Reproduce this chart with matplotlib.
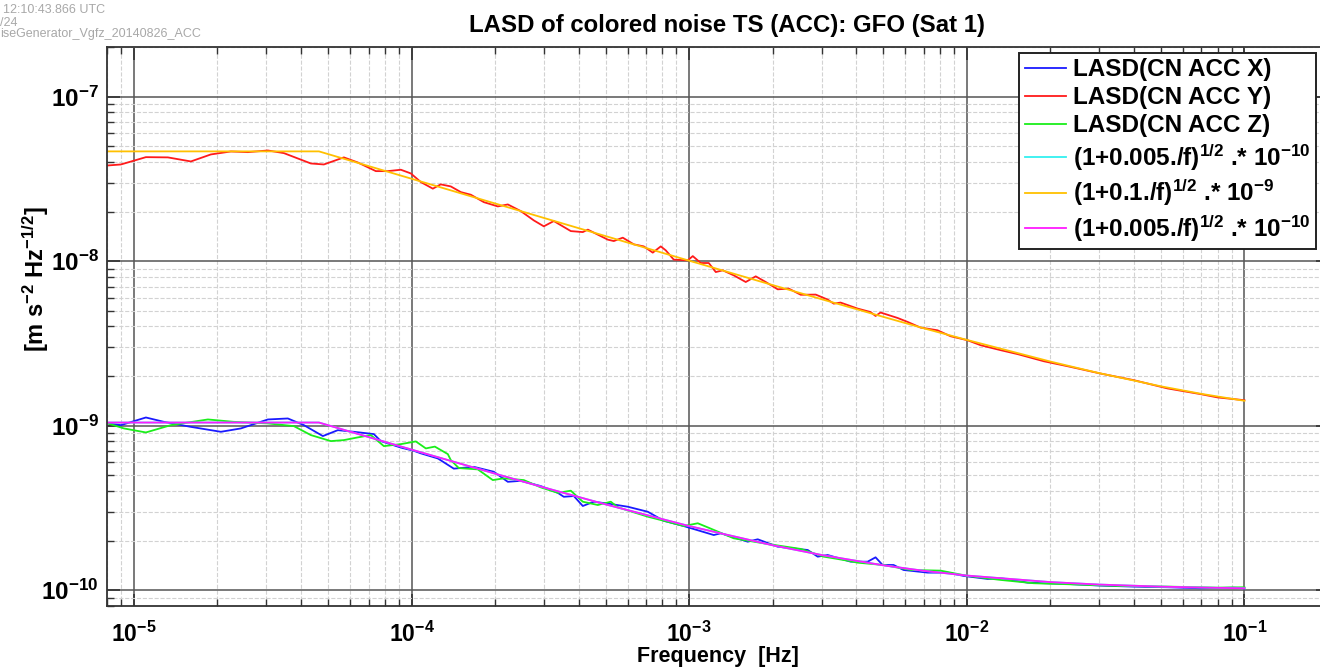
import matplotlib
matplotlib.use('Agg')
import matplotlib.pyplot as plt
import matplotlib.ticker as mticker
import numpy as np

# values, stored as log10(frequency [Hz]) and log10(LASD)
y_logf = [-5.0936, -5.0468, -4.9568, -4.8776, -4.7948, -4.7228, -4.6507, -4.5895, -4.5175, -4.4598,
          -4.3626, -4.3158, -4.2438, -4.1934, -4.1285, -4.0853, -4.0385, -4.0025, -3.9665, -3.9233,
          -3.8948, -3.8585, -3.8225, -3.7864, -3.7396, -3.6892, -3.6532, -3.6064, -3.5596, -3.5236,
          -3.4875, -3.4263, -3.3831, -3.3651, -3.2931, -3.2715, -3.2391, -3.1995, -3.1635, -3.1311,
          -3.1023, -3.0843, -3.0555, -3.0050, -2.9870, -2.9582, -2.9294, -2.9042, -2.8790, -2.8394,
          -2.7962, -2.7602, -2.7242, -2.6810, -2.6414, -2.5982, -2.5442, -2.5010, -2.4794, -2.4546,
          -2.3934, -2.3466, -2.3286, -2.3106, -2.2494, -2.2134, -2.1666, -2.1054, -2.0586, -1.9974,
          -1.9496, -1.8776, -1.8164, -1.7230, -1.6366, -1.5178, -1.3990, -1.2766, -1.1578, -1.0966,
          -1.0000]
y_logv = [-7.419, -7.413, -7.3685, -7.370, -7.3947, -7.352, -7.334, -7.338, -7.328, -7.344,
          -7.407, -7.413, -7.370, -7.401, -7.4535, -7.4535, -7.445, -7.4675, -7.520, -7.560,
          -7.534, -7.5465, -7.581, -7.597, -7.642, -7.668, -7.656, -7.6965, -7.753, -7.789,
          -7.757, -7.818, -7.824, -7.809, -7.870, -7.8785, -7.858, -7.8985, -7.911, -7.949,
          -7.911, -7.935, -7.9915, -7.996, -7.970, -8.012, -8.012, -8.067, -8.0565, -8.087,
          -8.1275, -8.093, -8.1275, -8.172, -8.1675, -8.205, -8.204, -8.2345, -8.259, -8.2525,
          -8.289, -8.310, -8.334, -8.313, -8.346, -8.370, -8.4045, -8.421, -8.457, -8.4815,
          -8.512, -8.542, -8.566, -8.609, -8.6395, -8.684, -8.724, -8.7745, -8.809, -8.829,
          -8.846]

x_logf = [-5.0936, -5.0468, -4.9568, -4.8920, -4.7948, -4.6867, -4.6147, -4.5175, -4.4455, -4.3878,
          -4.3194, -4.2654, -4.2078, -4.1358, -4.1105, -4.0385, -3.9917, -3.9665, -3.9053, -3.8477,
          -3.7757, -3.7036, -3.6532, -3.6064, -3.5344, -3.4732, -3.4515, -3.4155, -3.3831, -3.3435,
          -3.2823, -3.2211, -3.1491, -3.0915, -3.0194, -2.9114, -2.8862, -2.7890, -2.7530, -2.6810,
          -2.5982, -2.5730, -2.5370, -2.5010, -2.4182, -2.3570, -2.3286, -2.3034, -2.2638, -2.2278,
          -2.1408, -2.0688, -2.0112, -1.9246, -1.8776, -1.7806, -1.6366, -1.5178, -1.3990, -1.2766,
          -1.1578, -1.0390, -1.0000]
x_logv = [-8.987, -8.9975, -8.951, -8.9775, -9.008, -9.038, -9.0175, -8.963, -8.957, -8.9975,
          -9.064, -9.028, -9.038, -9.052, -9.0945, -9.134, -9.1535, -9.169, -9.200, -9.262,
          -9.251, -9.281, -9.342, -9.336, -9.368, -9.409, -9.433, -9.4285, -9.489, -9.463,
          -9.477, -9.4935, -9.524, -9.579, -9.611, -9.6655, -9.655, -9.706, -9.6915, -9.7365,
          -9.752, -9.7565, -9.797, -9.787, -9.8275, -9.8275, -9.801, -9.8475, -9.8475, -9.878,
          -9.894, -9.894, -9.914, -9.9325, -9.928, -9.955, -9.963, -9.973, -9.979, -9.983,
          -9.989, -9.9855, -9.989]

z_logf = [-5.0936, -5.0360, -4.9568, -4.8668, -4.7335, -4.6399, -4.5175, -4.4238, -4.3626, -4.2906,
          -4.2438, -4.1934, -4.1466, -4.0997, -4.0385, -3.9845, -3.9485, -3.9161, -3.8693, -3.8585,
          -3.8297, -3.7613, -3.7073, -3.6676, -3.5956, -3.5344, -3.4732, -3.4263, -3.3831, -3.3291,
          -3.2823, -3.2571, -3.1491, -3.0771, -3.0194, -2.9690, -2.9330, -2.8394, -2.7170, -2.5982,
          -2.5514, -2.5154, -2.4794, -2.4290, -2.3934, -2.3007, -2.2026, -2.0940, -1.9974, -1.8776,
          -1.7590, -1.6366, -1.4566, -1.2766, -1.0966, -1.0000]
z_logv = [-8.987, -9.0175, -9.042, -8.9975, -8.963, -8.9775, -8.987, -9.0035, -9.058, -9.0945,
          -9.0885, -9.072, -9.058, -9.125, -9.113, -9.0965, -9.139, -9.128, -9.1735, -9.210,
          -9.2585, -9.2665, -9.3315, -9.321, -9.3315, -9.376, -9.409, -9.396, -9.463, -9.483,
          -9.463, -9.497, -9.554, -9.585, -9.611, -9.594, -9.619, -9.6855, -9.720, -9.750,
          -9.7765, -9.797, -9.807, -9.8215, -9.8335, -9.8475, -9.878, -9.882, -9.914, -9.9385,
          -9.9585, -9.9645, -9.975, -9.979, -9.9855, -9.983]

# model curves as drawn (flat below ~4.6e-5 Hz)
model_f = [8e-6, 4.64e-5, 1e-4, 2e-4, 3e-4, 5e-4, 1e-3, 2e-3, 3e-3, 5e-3, 7e-3,
           1e-2, 2e-2, 3e-2, 5e-2, 7e-2, 1e-1]
model_a = [1.043e-9, 1.043e-9, 7.141e-10, 5.099e-10, 4.203e-10, 3.317e-10, 2.449e-10, 1.871e-10,
           1.633e-10, 1.414e-10, 1.309e-10, 1.225e-10, 1.118e-10, 1.080e-10, 1.049e-10, 1.036e-10,
           1.025e-10]
model_b = [4.64e-8, 4.64e-8, 3.164e-8, 2.238e-8, 1.827e-8, 1.418e-8, 1.005e-8, 7.14e-9,
           5.86e-9, 4.58e-9, 3.90e-9, 3.317e-9, 2.449e-9, 2.082e-9, 1.732e-9, 1.558e-9,
           1.414e-9]

labels = ['LASD(CN ACC X)', 'LASD(CN ACC Y)', 'LASD(CN ACC Z)',
          r'(1+0.005./f)$^{1/2}$ .* 10$^{-10}$',
          r'(1+0.1./f)$^{1/2}$ .* 10$^{-9}$',
          r'(1+0.005./f)$^{1/2}$ .* 10$^{-10}$']


def main():
    plt.rcParams['font.family'] = ['Liberation Sans', 'DejaVu Sans']
    plt.rcParams['font.weight'] = 'bold'
    plt.rcParams['mathtext.fontset'] = 'custom'
    plt.rcParams['mathtext.rm'] = 'Liberation Sans:bold'
    plt.rcParams['mathtext.it'] = 'Liberation Sans:bold'
    plt.rcParams['mathtext.bf'] = 'Liberation Sans:bold'
    plt.rcParams['mathtext.default'] = 'bf'

    fig = plt.figure(figsize=(13.2, 6.68), dpi=100)
    ax = fig.add_axes([107 / 1320, 62 / 668, 1221 / 1320, 559 / 668])

    ax.plot(10 ** np.array(x_logf), 10 ** np.array(x_logv), color='#1a1aff', lw=1.3, label=labels[0])
    ax.plot(10 ** np.array(y_logf), 10 ** np.array(y_logv), color='#ff1a1a', lw=1.3, label=labels[1])
    ax.plot(10 ** np.array(z_logf), 10 ** np.array(z_logv), color='#1aee1a', lw=1.3, label=labels[2])
    ax.plot(model_f, model_a, color='#33f0f0', lw=1.3, label=labels[3])
    ax.plot(model_f, model_b, color='#ffc000', lw=1.3, label=labels[4])
    ax.plot(model_f, model_a, color='#ff1aff', lw=1.3, label=labels[5])

    ax.set_xscale('log')
    ax.set_yscale('log')
    ax.set_xlim(8e-6, 0.2)
    ax.set_ylim(8e-11, 2e-7)
    ax.xaxis.set_major_locator(mticker.FixedLocator([1e-5, 1e-4, 1e-3, 1e-2, 1e-1]))
    ax.yaxis.set_major_locator(mticker.FixedLocator([1e-10, 1e-9, 1e-8, 1e-7]))
    ax.xaxis.set_minor_formatter(mticker.NullFormatter())
    ax.yaxis.set_minor_formatter(mticker.NullFormatter())

    ax.grid(True, which='minor', ls='--', color='#d2d2d2', lw=0.8)
    ax.grid(True, which='major', ls='-', color='#555555', lw=1.1)
    ax.set_axisbelow(True)
    ax.tick_params(which='both', direction='in', top=True, right=True, colors='#333333')
    ax.tick_params(which='major', length=9, width=1.2, labelsize=17.5, labelcolor='black')
    ax.tick_params(axis='x', which='major', pad=11, labelsize=16.5)
    ax.tick_params(axis='y', which='major', pad=6)
    ax.tick_params(which='minor', length=5, width=1.0)
    for s in ax.spines.values():
        s.set_color('#333333')
        s.set_linewidth(1.3)

    ax.set_title('LASD of colored noise TS (ACC): GFO (Sat 1)', fontsize=17.3,
                 fontweight='bold', pad=11, x=0.508)
    ax.set_xlabel('Frequency  [Hz]', fontsize=15.5, fontweight='bold')
    ax.xaxis.set_label_coords(0.5, -0.0716)
    ax.set_ylabel(r'[m s$^{-2}$ Hz$^{-1/2}$]', fontsize=17, fontweight='bold')
    ax.yaxis.set_label_coords(-0.046, 0.585)

    leg = ax.legend(loc='upper right', bbox_to_anchor=(1316 / 1320, 1 - 53 / 668),
                    bbox_transform=fig.transFigure, borderaxespad=0, fancybox=False,
                    edgecolor='#222222', framealpha=1, prop={'size': 17.5, 'weight': 'bold'},
                    handlelength=1.7, handletextpad=0.3, labelspacing=0.2,
                    borderpad=0.22)
    leg.get_frame().set_linewidth(1.4)

    fig.text(0.002, 0.985, '12:10:43.866 UTC', fontsize=9, color='#a8a8a8',
             fontweight='normal', va='center')
    fig.text(0.0, 0.966, '/24', fontsize=9, color='#a8a8a8',
             fontweight='normal', va='center')
    fig.text(0.0, 0.949, 'iseGenerator_Vgfz_20140826_ACC', fontsize=9, color='#a8a8a8',
             fontweight='normal', va='center')

    plt.savefig('out.png', dpi=100)


if __name__ == "__main__":
    main()
